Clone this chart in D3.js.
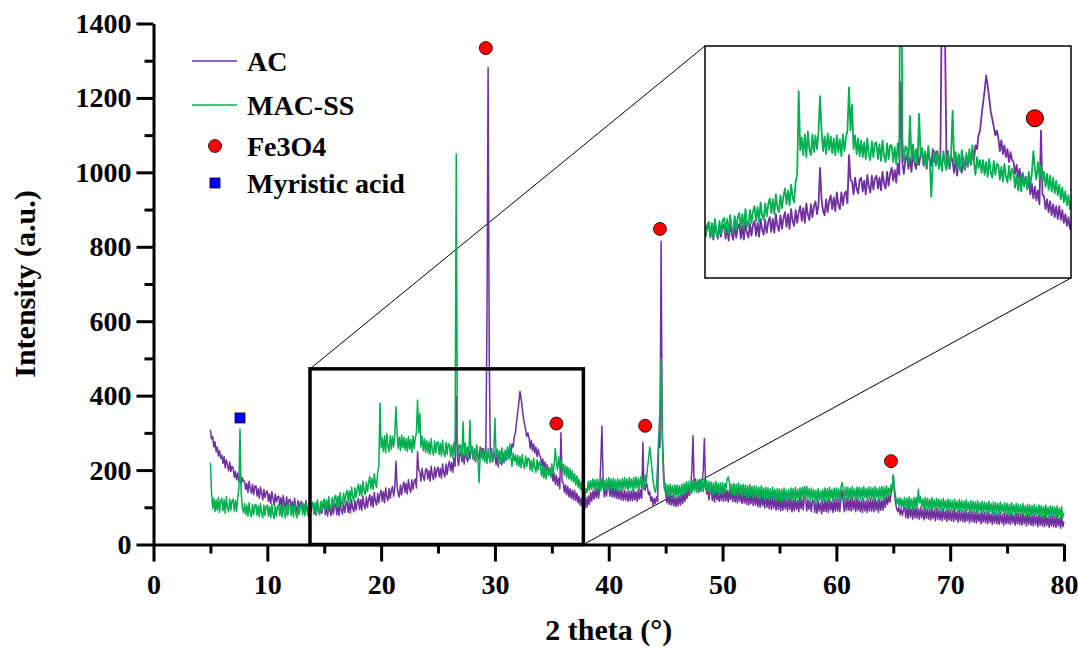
<!DOCTYPE html>
<html lang="en">
<head>
<meta charset="utf-8">
<title>XRD AC / MAC-SS</title>
<script src="https://cdn.jsdelivr.net/npm/d3@7"></script>
<style>
body { margin: 0; background: #fff; }
text { font-family: "Liberation Serif", "Times New Roman", serif; font-weight: bold; fill: #000; }
</style>
</head>
<body>
<script>
// each row = one degree of 2 theta, starting at 5, read every 0.1 degree
var thetaStart = 5, thetaStep = 0.1

var acRows = [
[308,284,290,262,276,250,262,238,252,232], // 5
[240,218,236,206,228,214,198,222,196,210],
[206,180,196,174,192,168,186,162,180,170],
[170,148,164,140,170,150,138,162,134,156],
[158,130,150,124,154,138,120,148,126,140],
[144,116,136,110,142,124,106,136,114,128], // 10
[130,104,126,98,132,112,96,128,104,120],
[122,92,116,90,124,100,88,118,94,112],
[116,86,110,84,118,96,82,112,88,106],
[110,82,104,78,114,92,80,108,84,104],
[108,80,104,76,112,90,78,108,82,104], // 15
[110,80,106,78,114,92,82,110,86,108],
[116,86,112,84,120,98,88,118,92,114],
[124,94,120,92,130,106,96,128,100,122],
[134,104,130,100,140,116,106,138,112,134],
[146,116,142,112,152,128,118,150,124,146], // 20
[156,130,150,224,160,136,128,160,134,156],
[168,140,164,136,174,150,140,174,148,170],
[176,152,250,200,196,170,204,182,172,200],
[204,176,198,170,210,186,174,208,180,202],
[208,182,204,178,216,192,182,216,188,212], // 25
[224,198,220,194,232,210,398,236,212,240],
[250,222,244,216,258,234,222,256,230,250],
[256,228,252,222,262,240,228,262,236,256],
[258,230,252,600,1282,500,232,258,222,248],
[238,214,242,208,250,226,214,246,220,240], // 30
[226,252,230,258,240,270,262,290,300,330],
[356,380,412,392,366,340,324,308,290,300],
[286,258,280,252,270,246,262,236,256,240],
[236,212,230,204,222,196,214,190,206,184],
[200,170,192,162,186,158,178,150,300,170], // 35
[166,140,160,134,156,128,150,124,146,120],
[146,118,138,112,130,106,124,100,112,96],
[126,100,130,108,140,116,144,122,148,126],
[150,124,148,222,318,180,128,152,130,156],
[158,130,156,128,152,126,150,124,148,122], // 40
[146,120,144,118,146,120,142,116,144,118],
[144,118,146,120,142,116,148,122,146,124],
[275,150,146,166,154,134,142,116,128,106],
[124,110,128,116,300,260,815,300,220,150],
[140,112,136,108,134,106,130,104,128,102], // 45
[128,104,130,106,134,110,138,116,144,124],
[150,132,160,196,292,168,176,150,168,140],
[162,144,170,196,285,170,136,150,120,142],
[148,118,146,114,148,120,144,116,146,118],
[148,116,150,118,146,114,148,120,144,116], // 50
[146,114,144,112,146,116,142,110,144,112],
[140,108,138,106,140,110,136,104,138,106],
[134,102,132,100,134,104,130,98,132,100],
[128,96,126,94,128,98,124,92,126,94],
[124,90,122,92,126,96,120,90,124,94], // 55
[122,88,120,90,124,94,118,88,126,96],
[120,92,155,118,90,122,94,116,88,120],
[116,86,114,84,118,90,112,82,116,88],
[120,88,118,86,122,92,116,86,120,90],
[122,90,120,88,124,145,116,88,122,92], // 60
[124,92,122,90,126,94,120,88,124,92],
[120,88,118,86,122,90,116,86,120,90],
[122,90,120,88,124,92,118,86,122,92],
[120,92,124,100,128,108,132,114,136,150],
[187,140,112,96,88,100,80,96,78,94], // 65
[100,72,98,70,102,74,96,68,100,72],
[98,70,96,68,100,72,94,66,98,70],
[96,68,94,66,98,70,92,64,96,68],
[94,66,92,64,96,68,90,62,94,66],
[92,64,90,62,94,66,88,60,92,64], // 70
[90,62,88,60,92,64,86,58,90,62],
[88,60,86,58,90,62,84,56,88,60],
[86,58,84,56,88,60,82,54,86,58],
[84,56,82,54,86,58,80,52,84,56],
[84,56,82,54,86,58,80,52,84,56], // 75
[82,54,80,52,84,56,78,50,82,54],
[80,52,78,50,82,54,76,48,80,52],
[78,50,76,48,80,52,74,46,78,50],
[76,48,74,46,78,50,72,44,76,48],
[62] // 80
]

var macRows = [
[220,140,96,124,88,120,92,126,86,118], // 5
[124,90,120,84,128,98,88,122,92,118],
[122,90,118,88,128,150,310,140,100,86],
[110,80,106,76,112,86,74,108,80,104],
[108,78,104,74,110,84,72,106,78,102],
[106,76,102,72,108,82,70,104,76,100], // 10
[108,78,104,74,110,84,72,106,78,102],
[108,78,104,74,110,84,72,106,80,104],
[110,80,108,78,114,88,76,110,84,108],
[114,84,112,82,120,94,82,116,90,116],
[122,92,120,90,128,102,92,126,100,124], // 15
[132,102,130,100,140,114,104,138,112,136],
[146,116,144,114,154,128,118,152,126,150],
[162,132,160,130,170,144,134,168,142,166],
[182,150,178,148,190,164,154,196,210,380],
[260,286,250,292,246,298,262,250,292,256], // 20
[290,262,296,370,300,258,288,252,294,260],
[288,254,284,250,290,256,282,248,292,258],
[286,300,388,300,352,262,290,252,284,248],
[280,246,276,242,284,252,240,278,246,274],
[276,242,272,238,280,248,236,274,242,270], // 25
[270,236,266,232,274,244,1049,282,238,268],
[264,232,330,240,272,236,262,230,334,250],
[264,230,258,226,268,240,166,236,258,228],
[254,222,250,218,258,232,220,254,226,250],
[340,238,256,222,252,218,260,232,220,254], // 30
[228,262,232,270,236,210,246,224,240,214],
[240,210,236,206,242,216,204,238,210,232],
[230,200,226,196,232,206,194,228,200,222],
[214,184,210,178,206,176,212,186,204,180],
[216,190,212,258,222,200,236,206,228,196], // 35
[216,186,212,180,208,176,204,172,198,168],
[190,160,184,154,176,148,168,140,150,126],
[150,140,170,146,172,148,176,150,174,148],
[176,146,174,144,178,150,172,144,176,148],
[180,150,176,146,178,148,174,144,176,150], // 40
[174,144,178,148,180,150,176,146,180,152],
[176,146,180,150,182,152,178,148,182,156],
[170,150,186,170,206,230,262,236,200,170],
[150,140,160,220,300,360,500,300,180,150],
[164,132,160,128,162,134,158,128,160,132], // 45
[160,130,158,128,162,134,164,136,168,140],
[170,140,168,138,172,144,170,140,174,146],
[176,144,174,142,178,148,172,142,170,140],
[168,136,166,134,170,140,164,132,166,136],
[166,134,164,150,176,182,168,138,162,132], // 50
[164,132,162,130,166,136,160,128,162,132],
[160,128,158,126,162,132,156,124,158,128],
[156,124,154,122,158,128,152,120,154,124],
[152,120,150,118,154,124,148,116,150,120],
[150,118,148,116,152,122,146,114,148,118], // 55
[152,120,150,118,154,124,148,116,152,122],
[154,122,152,120,156,126,150,118,152,122],
[148,116,146,114,150,120,144,112,148,118],
[152,120,150,118,154,124,148,116,152,122],
[152,120,150,118,154,166,148,120,154,124], // 60
[154,122,152,120,156,126,150,118,154,124],
[154,122,152,120,156,126,150,118,154,124],
[154,122,152,120,156,126,150,118,154,124],
[156,124,154,122,158,130,152,134,160,150],
[186,152,130,110,124,104,126,100,122,98], // 65
[126,98,124,96,128,100,122,94,126,98],
[126,98,148,112,128,100,122,94,126,98],
[124,96,122,94,126,98,120,92,124,96],
[122,94,120,92,124,96,118,90,122,94],
[120,92,118,90,122,94,116,88,120,92], // 70
[118,90,116,88,120,92,114,86,118,90],
[116,88,114,86,118,90,112,84,116,88],
[114,86,112,84,116,88,110,82,114,86],
[112,84,110,82,114,86,108,80,112,84],
[110,82,108,80,112,84,106,78,110,82], // 75
[108,80,106,78,110,82,104,76,108,80],
[106,78,104,76,108,80,102,74,106,78],
[104,76,102,74,106,78,100,72,104,76],
[102,74,100,72,104,76,98,70,102,74],
[84] // 80
]

var fe3o4Theta = [29.2, 35.4, 43.2, 44.5, 64.8]
var fe3o4Int = [1334, 325, 319, 848, 224]
var myristicTheta = [7.6]
var myristicInt = [340]

var xTicks = [0, 10, 20, 30, 40, 50, 60, 70, 80]
var xMinor = [5, 15, 25, 35, 45, 55, 65, 75]
var yTicks = [0, 200, 400, 600, 800, 1000, 1200, 1400]
var yMinor = [100, 300, 500, 700, 900, 1100, 1300]

var legendNames = ["AC", "MAC-SS", "Fe3O4", "Myristic acid"]

// zoomed window shown in the inset
var zoomTheta = [13.75, 37.77]
var zoomInt = [0, 472]

var colAC = "#7030a0", colMAC = "#00b050"

var w = 1078, h = 649
var svg = d3.select("body").append("svg").attr("width", w).attr("height", h)

var x = d3.scaleLinear().domain([0, 80]).range([153.5, 1064])
var y = d3.scaleLinear().domain([0, 1400]).range([544.5, 23.5])

function toPoints(rows) {
	var pts = []
	rows.forEach(function(r, k) {
		r.forEach(function(v, j) { pts.push([thetaStart + k + j * thetaStep, v]) })
	})
	return pts
}
var acPts = toPoints(acRows)
var macPts = toPoints(macRows)

// connector lines main window -> inset
var ix = d3.scaleLinear().domain(zoomTheta).range([705, 1071])
var iy = d3.scaleLinear().domain(zoomInt).range([278, 46])

svg.append("line")
	.attr("x1", x(zoomTheta[0])).attr("y1", y(zoomInt[1]))
	.attr("x2", ix.range()[0]).attr("y2", iy.range()[1])
	.attr("stroke", "#000").attr("stroke-width", 1)
svg.append("line")
	.attr("x1", x(zoomTheta[1])).attr("y1", y(zoomInt[0]))
	.attr("x2", ix.range()[1]).attr("y2", iy.range()[0])
	.attr("stroke", "#000").attr("stroke-width", 1)

// main curves
var line = d3.line().x(function(d) { return x(d[0]) }).y(function(d) { return y(d[1]) })
svg.append("path").datum(acPts).attr("d", line)
	.attr("fill", "none").attr("stroke", colAC).attr("stroke-width", 1.5).attr("stroke-linejoin", "round")
svg.append("path").datum(macPts).attr("d", line)
	.attr("fill", "none").attr("stroke", colMAC).attr("stroke-width", 1.5).attr("stroke-linejoin", "round")

// markers
svg.selectAll(".fe").data(fe3o4Theta).enter().append("circle")
	.attr("class", "fe")
	.attr("cx", function(d) { return x(d) })
	.attr("cy", function(d, i) { return y(fe3o4Int[i]) })
	.attr("r", 6.5).attr("fill", "#ff0000").attr("stroke", "#000").attr("stroke-width", 0.8)
svg.selectAll(".my").data(myristicTheta).enter().append("rect")
	.attr("class", "my")
	.attr("x", function(d) { return x(d) - 5 })
	.attr("y", function(d, i) { return y(myristicInt[i]) - 5 })
	.attr("width", 10).attr("height", 10)
	.attr("fill", "#0000ff").attr("stroke", "#000").attr("stroke-width", 0.8)

// zoom window box
svg.append("rect")
	.attr("x", x(zoomTheta[0])).attr("y", y(zoomInt[1]))
	.attr("width", x(zoomTheta[1]) - x(zoomTheta[0]))
	.attr("height", y(zoomInt[0]) - y(zoomInt[1]))
	.attr("fill", "none").attr("stroke", "#000").attr("stroke-width", 3.5)

// axes
function styleAxis(g) {
	g.selectAll("path.domain").attr("stroke-width", 3)
	g.selectAll(".tick line").attr("stroke-width", 3)
	g.selectAll(".tick text").style("font-size", "28px").style("font-family", "'Liberation Serif', serif").style("font-weight", "bold")
}
var gxm = svg.append("g").attr("transform", "translate(0," + y(0) + ")")
	.call(d3.axisBottom(x).tickValues(xMinor).tickSize(9).tickFormat(""))
gxm.select("path.domain").remove()
styleAxis(gxm)
var gym = svg.append("g").attr("transform", "translate(" + x(0) + ",0)")
	.call(d3.axisLeft(y).tickValues(yMinor).tickSize(9).tickFormat(""))
gym.select("path.domain").remove()
styleAxis(gym)

var gx = svg.append("g").attr("transform", "translate(0," + y(0) + ")")
	.call(d3.axisBottom(x).tickValues(xTicks).tickSize(17).tickSizeOuter(0).tickPadding(13).tickFormat(d3.format("d")))
styleAxis(gx)
var gy = svg.append("g").attr("transform", "translate(" + x(0) + ",0)")
	.call(d3.axisLeft(y).tickValues(yTicks).tickSize(17).tickSizeOuter(0).tickPadding(5).tickFormat(d3.format("d")))
styleAxis(gy)

// axis titles
svg.append("text").attr("x", (x(0) + x(80)) / 2).attr("y", 640)
	.attr("text-anchor", "middle").style("font-size", "30px").text("2 theta (°)")
svg.append("text").attr("transform", "translate(35," + (y(0) + y(1400)) / 2 + ") rotate(-90)")
	.attr("text-anchor", "middle").style("font-size", "30px").text("Intensity (a.u.)")

// inset
svg.append("clipPath").attr("id", "insetClip").append("rect")
	.attr("x", 705).attr("y", 46).attr("width", 366).attr("height", 232)
var inset = svg.append("g").attr("clip-path", "url(#insetClip)")
var iline = d3.line().x(function(d) { return ix(d[0]) }).y(function(d) { return iy(d[1]) })
function inWin(d) { return d[0] >= zoomTheta[0] - 0.3 && d[0] <= zoomTheta[1] + 0.3 }
inset.append("path").datum(acPts.filter(inWin)).attr("d", iline)
	.attr("fill", "none").attr("stroke", colAC).attr("stroke-width", 1.8).attr("stroke-linejoin", "round")
inset.append("path").datum(macPts.filter(inWin)).attr("d", iline)
	.attr("fill", "none").attr("stroke", colMAC).attr("stroke-width", 1.8).attr("stroke-linejoin", "round")
inset.selectAll(".fe").data(fe3o4Theta).enter().append("circle")
	.attr("cx", function(d) { return ix(d) })
	.attr("cy", function(d, i) { return iy(fe3o4Int[i]) })
	.attr("r", 8.5).attr("fill", "#ff0000").attr("stroke", "#000").attr("stroke-width", 1)
svg.append("rect").attr("x", 705).attr("y", 46).attr("width", 366).attr("height", 232)
	.attr("fill", "none").attr("stroke", "#000").attr("stroke-width", 1.5)

// legend
var legendY = [61, 105, 146, 183]
var leg = svg.append("g")
leg.append("line").attr("x1", 192).attr("x2", 237).attr("y1", legendY[0]).attr("y2", legendY[0])
	.attr("stroke", colAC).attr("stroke-width", 1.3)
leg.append("line").attr("x1", 192).attr("x2", 237).attr("y1", legendY[1]).attr("y2", legendY[1])
	.attr("stroke", colMAC).attr("stroke-width", 1.3)
leg.append("circle").attr("cx", 215).attr("cy", legendY[2]).attr("r", 6.5)
	.attr("fill", "#ff0000").attr("stroke", "#000").attr("stroke-width", 0.8)
leg.append("rect").attr("x", 210).attr("y", legendY[3] - 5).attr("width", 10).attr("height", 10)
	.attr("fill", "#0000ff").attr("stroke", "#000").attr("stroke-width", 0.8)
leg.selectAll("text").data(legendNames).enter().append("text")
	.attr("x", 247)
	.attr("y", function(d, i) { return legendY[i] })
	.attr("dy", "0.35em")
	.style("font-size", "28px")
	.text(function(d) { return d })
</script>
</body>
</html>
